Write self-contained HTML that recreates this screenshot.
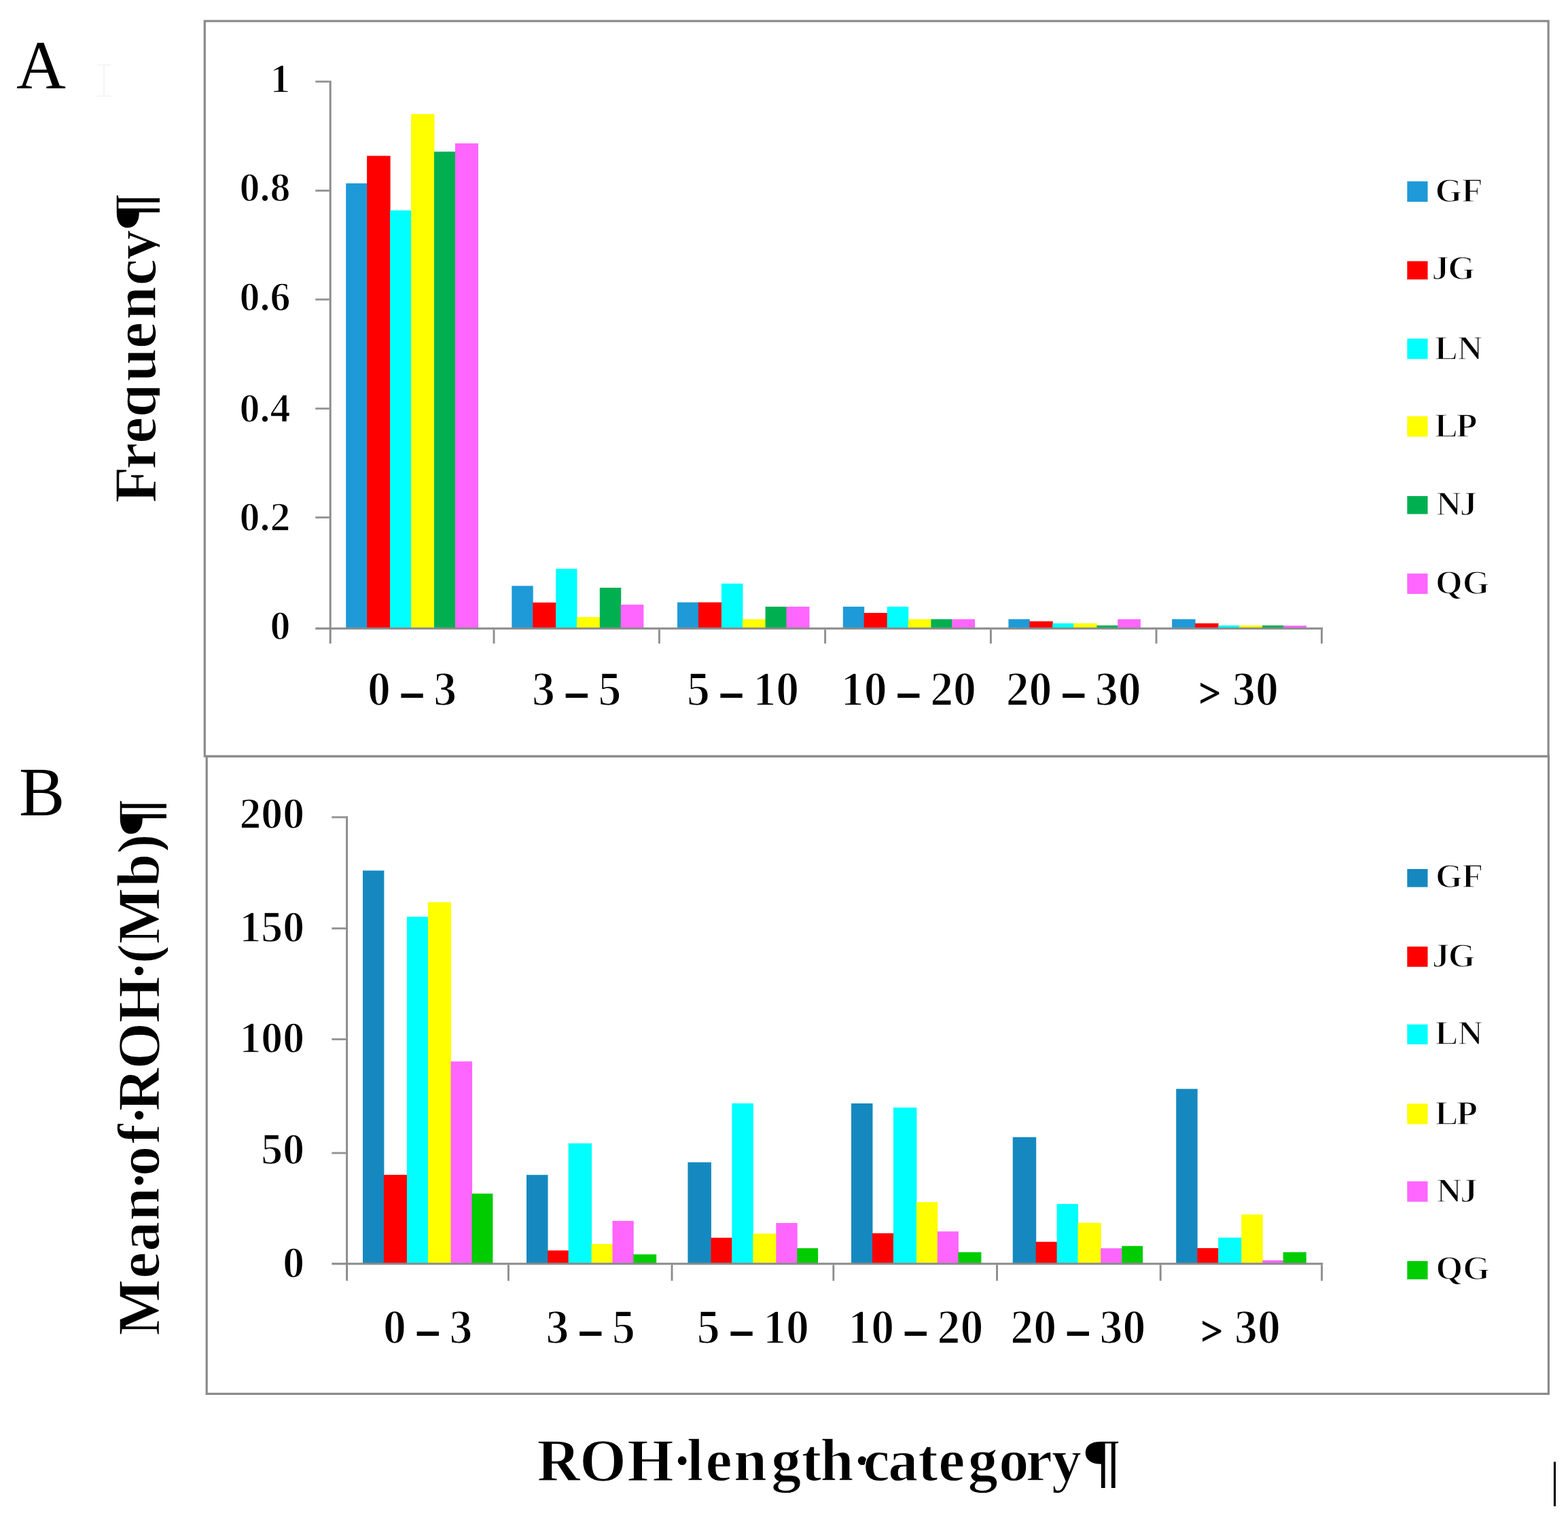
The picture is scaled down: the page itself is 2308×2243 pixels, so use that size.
<!DOCTYPE html>
<html lang="en">
<head>
<meta charset="utf-8">
<title>ROH length category</title>
<style>
html,body{margin:0;padding:0;background:#ffffff;}
body{width:2308px;height:2243px;overflow:hidden;font-family:"Liberation Serif",serif;}
svg{display:block;}
text{font-family:"Liberation Serif",serif;fill:#000;}
.yl{font-weight:bold;text-anchor:end;stroke:#fff;stroke-width:1.5px;}
.xl{font-weight:bold;text-anchor:middle;font-size:71px;stroke:#fff;stroke-width:1.7px;}
.xl .d{stroke:#000;stroke-width:2px;font-size:62px;}
.xl .gt{stroke:#000;stroke-width:0.8px;font-size:60px;}
.lg{font-weight:bold;font-size:51px;stroke:#fff;stroke-width:1.6px;}
.ti{font-weight:bold;font-size:88px;stroke:#fff;stroke-width:1.4px;}
.pl{font-size:101px;}
</style>
</head>
<body>
<svg width="2308" height="2243" viewBox="0 0 2308 2243" role="img" aria-label="ROH frequency and mean ROH length by length category">
<rect x="0" y="0" width="2308" height="2243" fill="#ffffff"/>
<g id="frames" fill="#ffffff" stroke="#8a8a8a" stroke-width="3.2">
<rect x="304.2" y="1113" width="1975.2" height="938.4"/>
<rect x="301.3" y="31" width="1977.8" height="1082"/>
</g>
<g id="ibeam" stroke="#f5f5f5" stroke-width="2.6" fill="none"><path d="M142.5 95.5H163.5M153 95.5V141.5M142.5 141.5H163.5"/></g>
<g id="chartA">
<g id="barsA">
<rect x="509.2" y="269.8" width="31.4" height="654.2" fill="#1E9AD8"/>
<rect x="540.1" y="229.4" width="34.5" height="694.6" fill="#FF0000"/>
<rect x="574.1" y="309.6" width="31.5" height="614.4" fill="#00FFFF"/>
<rect x="605.1" y="167.8" width="34.4" height="756.2" fill="#FFFF00"/>
<rect x="639" y="223.2" width="31.5" height="700.8" fill="#00B050"/>
<rect x="670" y="211" width="34" height="713" fill="#FF66FF"/>
<rect x="753.3" y="862.3" width="31.4" height="61.7" fill="#1E9AD8"/>
<rect x="784.2" y="886.8" width="34.5" height="37.2" fill="#FF0000"/>
<rect x="818.2" y="837.2" width="31.2" height="86.8" fill="#00FFFF"/>
<rect x="848.9" y="908.2" width="34.4" height="15.8" fill="#FFFF00"/>
<rect x="882.8" y="865" width="31.4" height="59" fill="#00B050"/>
<rect x="913.7" y="889.9" width="33.7" height="34.1" fill="#FF66FF"/>
<rect x="997" y="886.5" width="31.4" height="37.5" fill="#1E9AD8"/>
<rect x="1027.9" y="886.5" width="34.5" height="37.5" fill="#FF0000"/>
<rect x="1061.9" y="858.9" width="31.5" height="65.1" fill="#00FFFF"/>
<rect x="1092.9" y="911.3" width="34.2" height="12.7" fill="#FFFF00"/>
<rect x="1126.6" y="892.9" width="31.4" height="31.1" fill="#00B050"/>
<rect x="1157.5" y="892.9" width="34" height="31.1" fill="#FF66FF"/>
<rect x="1240.8" y="892.9" width="31.4" height="31.1" fill="#1E9AD8"/>
<rect x="1271.7" y="902.1" width="34.5" height="21.9" fill="#FF0000"/>
<rect x="1305.7" y="892.9" width="31.5" height="31.1" fill="#00FFFF"/>
<rect x="1336.7" y="911.3" width="34.2" height="12.7" fill="#FFFF00"/>
<rect x="1370.4" y="911.3" width="31.4" height="12.7" fill="#00B050"/>
<rect x="1401.3" y="911.3" width="33.7" height="12.7" fill="#FF66FF"/>
<rect x="1484.4" y="911.3" width="31.4" height="12.7" fill="#1E9AD8"/>
<rect x="1515.3" y="914.4" width="34.5" height="9.6" fill="#FF0000"/>
<rect x="1549.3" y="917.4" width="31.5" height="6.6" fill="#00FFFF"/>
<rect x="1580.3" y="917.4" width="34.5" height="6.6" fill="#FFFF00"/>
<rect x="1614.3" y="920.5" width="31.4" height="3.5" fill="#00B050"/>
<rect x="1645.2" y="911.3" width="33.7" height="12.7" fill="#FF66FF"/>
<rect x="1725.1" y="911.3" width="34.5" height="12.7" fill="#1E9AD8"/>
<rect x="1759.1" y="917.4" width="34.5" height="6.6" fill="#FF0000"/>
<rect x="1793.1" y="920.5" width="31.5" height="3.5" fill="#00FFFF"/>
<rect x="1824.1" y="920.5" width="34.5" height="3.5" fill="#FFFF00"/>
<rect x="1858.1" y="920.5" width="31.4" height="3.5" fill="#00B050"/>
<rect x="1889" y="920.8" width="34" height="3.2" fill="#FF66FF"/>
</g>
<g id="axesA" stroke="#8a8a8a" stroke-width="2.9" fill="none">
<path d="M486.2 118.65V947.2"/>
<path d="M464.3 925H1947.2"/>
<path stroke="#939393" d="M464.3 120.1H484.8"/>
<path stroke="#939393" d="M464.3 280.6H484.8"/>
<path stroke="#939393" d="M464.3 440.8H484.8"/>
<path stroke="#939393" d="M464.3 601.3H484.8"/>
<path stroke="#939393" d="M464.3 761.6H484.8"/>
<path stroke="#8e8e8e" d="M727 926.4V947.2"/>
<path stroke="#8e8e8e" d="M970.4 926.4V947.2"/>
<path stroke="#8e8e8e" d="M1214.6 926.4V947.2"/>
<path stroke="#8e8e8e" d="M1458.4 926.4V947.2"/>
<path stroke="#8e8e8e" d="M1702 926.4V947.2"/>
<path stroke="#8e8e8e" d="M1945.5 926.4V947.2"/>
</g>
</g>
<g id="chartB">
<g id="barsB">
<rect x="534" y="1281.3" width="31.4" height="577.7" fill="#1589BF"/>
<rect x="564.9" y="1729.1" width="34.5" height="129.9" fill="#FF0000"/>
<rect x="598.9" y="1349.3" width="31.5" height="509.7" fill="#00FFFF"/>
<rect x="629.9" y="1327.9" width="34.2" height="531.1" fill="#FFFF00"/>
<rect x="663.6" y="1562.2" width="31.4" height="296.8" fill="#FF66FF"/>
<rect x="694.5" y="1756.7" width="30.9" height="102.3" fill="#00CC00"/>
<rect x="775" y="1729.2" width="31.5" height="129.8" fill="#1589BF"/>
<rect x="806" y="1840.4" width="31.1" height="18.6" fill="#FF0000"/>
<rect x="836.6" y="1682.7" width="34.5" height="176.3" fill="#00FFFF"/>
<rect x="870.6" y="1830.9" width="31.4" height="28.1" fill="#FFFF00"/>
<rect x="901.5" y="1796.9" width="31.2" height="62.1" fill="#FF66FF"/>
<rect x="932.2" y="1846.2" width="34" height="12.8" fill="#00CC00"/>
<rect x="1012.4" y="1710.6" width="34.5" height="148.4" fill="#1589BF"/>
<rect x="1046.4" y="1821.7" width="31.4" height="37.3" fill="#FF0000"/>
<rect x="1077.3" y="1623.9" width="31.5" height="235.1" fill="#00FFFF"/>
<rect x="1108.3" y="1815.6" width="34.5" height="43.4" fill="#FFFF00"/>
<rect x="1142.3" y="1800" width="31.4" height="59" fill="#FF66FF"/>
<rect x="1173.2" y="1837.1" width="30.9" height="21.9" fill="#00CC00"/>
<rect x="1253" y="1624" width="31.5" height="235" fill="#1589BF"/>
<rect x="1284" y="1815.1" width="31.4" height="43.9" fill="#FF0000"/>
<rect x="1314.9" y="1630.1" width="34.5" height="228.9" fill="#00FFFF"/>
<rect x="1348.9" y="1769.2" width="31.4" height="89.8" fill="#FFFF00"/>
<rect x="1379.8" y="1812.4" width="31.1" height="46.6" fill="#FF66FF"/>
<rect x="1410.4" y="1843" width="34" height="16" fill="#00CC00"/>
<rect x="1490.7" y="1673.6" width="34.5" height="185.4" fill="#1589BF"/>
<rect x="1524.7" y="1827.7" width="31.4" height="31.3" fill="#FF0000"/>
<rect x="1555.6" y="1772" width="31.4" height="87" fill="#00FFFF"/>
<rect x="1586.5" y="1799.8" width="34.2" height="59.2" fill="#FFFF00"/>
<rect x="1620.2" y="1837.2" width="31.5" height="21.8" fill="#FF66FF"/>
<rect x="1651.2" y="1833.8" width="30.9" height="25.2" fill="#00CC00"/>
<rect x="1731.2" y="1602.6" width="31.5" height="256.4" fill="#1589BF"/>
<rect x="1762.2" y="1837" width="31.5" height="22" fill="#FF0000"/>
<rect x="1793.2" y="1821.5" width="34.5" height="37.5" fill="#00FFFF"/>
<rect x="1827.2" y="1787.5" width="31.6" height="71.5" fill="#FFFF00"/>
<rect x="1858.3" y="1854.8" width="30.9" height="4.2" fill="#FF66FF"/>
<rect x="1888.7" y="1843" width="34.1" height="16" fill="#00CC00"/>
</g>
<g id="axesB" stroke="#8a8a8a" stroke-width="2.9" fill="none">
<path d="M510.6 1201.35V1885"/>
<path d="M488.3 1860H1947.3"/>
<path stroke="#939393" d="M488.3 1202.8H509.2"/>
<path stroke="#939393" d="M488.3 1366.4H509.2"/>
<path stroke="#939393" d="M488.3 1529.6H509.2"/>
<path stroke="#939393" d="M488.3 1697H509.2"/>
<path stroke="#8e8e8e" d="M748.4 1861.4V1885"/>
<path stroke="#8e8e8e" d="M989 1861.4V1885"/>
<path stroke="#8e8e8e" d="M1226.8 1861.4V1885"/>
<path stroke="#8e8e8e" d="M1467.5 1861.4V1885"/>
<path stroke="#8e8e8e" d="M1708.2 1861.4V1885"/>
<path stroke="#8e8e8e" d="M1945.6 1861.4V1885"/>
</g>
</g>
<g id="ylabA" class="yl" font-size="61">
<text transform="translate(427.6 136) scale(0.985 1)">1</text>
<text transform="translate(427.6 296.4) scale(0.985 1)">0.8</text>
<text transform="translate(427.6 456.8) scale(0.985 1)">0.6</text>
<text transform="translate(427.6 620.6) scale(0.985 1)">0.4</text>
<text transform="translate(427.6 780.6) scale(0.985 1)">0.2</text>
<text transform="translate(427.6 941.4) scale(0.985 1)">0</text>
</g>
<g id="xlabA" class="xl">
<text transform="translate(606.6 1038.2) scale(0.955 1)">0 <tspan class="d">–</tspan> 3</text>
<text transform="translate(848.7 1038.2) scale(0.955 1)">3 <tspan class="d">–</tspan> 5</text>
<text transform="translate(1093.6 1038.2) scale(0.955 1)">5 <tspan class="d">–</tspan> 10</text>
<text transform="translate(1337.4 1038.2) scale(0.955 1)">10 <tspan class="d">–</tspan> 20</text>
<text transform="translate(1580.2 1038.2) scale(0.955 1)">20 <tspan class="d">–</tspan> 30</text>
<text transform="translate(1823.1 1038.2) scale(0.955 1)"><tspan class="gt" dy="2">&gt;</tspan><tspan dy="-2"> 30</tspan></text>
</g>
<g id="ylabB" class="yl" font-size="66">
<text transform="translate(448 1219.2) scale(0.965 1)">200</text>
<text transform="translate(448 1385.5) scale(0.965 1)">150</text>
<text transform="translate(448 1549.3) scale(0.965 1)">100</text>
<text transform="translate(448 1712.7) scale(0.965 1)">50</text>
<text transform="translate(448 1879.6) scale(0.965 1)">0</text>
</g>
<g id="xlabB" class="xl">
<text transform="translate(629.7 1976.8) scale(0.955 1)">0 <tspan class="d">–</tspan> 3</text>
<text transform="translate(869.2 1976.8) scale(0.955 1)">3 <tspan class="d">–</tspan> 5</text>
<text transform="translate(1108.4 1976.8) scale(0.955 1)">5 <tspan class="d">–</tspan> 10</text>
<text transform="translate(1347.8 1976.8) scale(0.955 1)">10 <tspan class="d">–</tspan> 20</text>
<text transform="translate(1586.8 1976.8) scale(0.955 1)">20 <tspan class="d">–</tspan> 30</text>
<text transform="translate(1826.2 1976.8) scale(0.955 1)"><tspan class="gt" dy="2">&gt;</tspan><tspan dy="-2"> 30</tspan></text>
</g>
<g id="legendA" class="lg">
<rect x="2070.5" y="266.1" width="31.8" height="31.7" fill="#1E9AD8"/>
<text x="2112.55 2151.4" y="296.8">GF</text>
<rect x="2070.5" y="383.6" width="31.8" height="28.5" fill="#FF0000"/>
<text x="2107.6 2131.15" y="411.1">JG</text>
<rect x="2070.5" y="497.6" width="31.8" height="31.6" fill="#00FFFF"/>
<text x="2111.65 2145.25" y="528.9">LN</text>
<rect x="2070.5" y="611.8" width="31.8" height="31.7" fill="#FFFF00"/>
<text x="2111.65 2143.25" y="643.2">LP</text>
<rect x="2070.5" y="729.3" width="31.8" height="28.1" fill="#00B050"/>
<text x="2113.95 2148.75" y="757.5">NJ</text>
<rect x="2070.5" y="843.3" width="31.8" height="31.6" fill="#FF66FF"/>
<text x="2112.95 2152.7" y="873.6">QG</text>
</g>
<g id="legendB" class="lg">
<rect x="2070.5" y="1278.2" width="31.8" height="28.2" fill="#1589BF"/>
<text x="2113.05 2151.9" y="1305.5">GF</text>
<rect x="2070.5" y="1392.4" width="31.8" height="31.3" fill="#FF0000"/>
<text x="2108.1 2131.65" y="1422.8">JG</text>
<rect x="2070.5" y="1506.9" width="31.8" height="31" fill="#00FFFF"/>
<text x="2112.15 2145.75" y="1537">LN</text>
<rect x="2070.5" y="1623.6" width="31.8" height="31.7" fill="#FFFF00"/>
<text x="2112.15 2143.75" y="1654.7">LP</text>
<rect x="2070.5" y="1737.8" width="31.8" height="31.7" fill="#FF66FF"/>
<text x="2114.45 2149.25" y="1768.6">NJ</text>
<rect x="2070.5" y="1855.2" width="31.8" height="28.5" fill="#00CC00"/>
<text x="2113.45 2153.2" y="1882.8">QG</text>
</g>
<text class="pl" x="24" y="130">A</text>
<text class="pl" x="28" y="1200.1">B</text>
<clipPath id="clipA"><rect x="150" y="250" width="85" height="520"/></clipPath>
<clipPath id="clipB"><rect x="150" y="1150" width="97" height="850"/></clipPath>
<g id="ytitleA" clip-path="url(#clipA)"><g transform="translate(228.6 734.3) rotate(-90)">
<text class="ti" x="-5.85 43.6 81.6 120.1 172.9 221.4 263.75 314 352.05" y="0">Frequency</text>
<text class="ti" transform="translate(392.99 0) scale(1.25 1)">¶</text>
</g></g>
<g id="ytitleB" clip-path="url(#clipB)"><g transform="translate(234.3 1963.7) rotate(-90)">
<text class="ti" x="-2.15 82 122 166.95 211.65 232.8 280.1 307.65 328.2 390.25 458.1 520.1 545.55 574.1 658.25 706.95" y="0">Mean·of·ROH·(Mb)</text>
<text class="ti" transform="translate(730.22 0) scale(1.27 1)">¶</text>
</g></g>
<g id="xtitle" transform="translate(0 2179.2)">
<text class="ti" x="790.45 853.15 923.25 989.55 1011 1038.5 1080.05 1135.15 1179.65 1207.5 1254.5 1270.4 1307.35 1351.2 1381.2 1424.65 1470.35 1509.8 1548.05" y="0">ROH·length·category</text>
<text class="ti" transform="translate(1591.5 0) scale(1.27 1)">¶</text>
</g>
<rect id="caret" x="2286.9" y="2151.5" width="3.1" height="65.3" fill="#000"/>
</svg>
</body>
</html>
